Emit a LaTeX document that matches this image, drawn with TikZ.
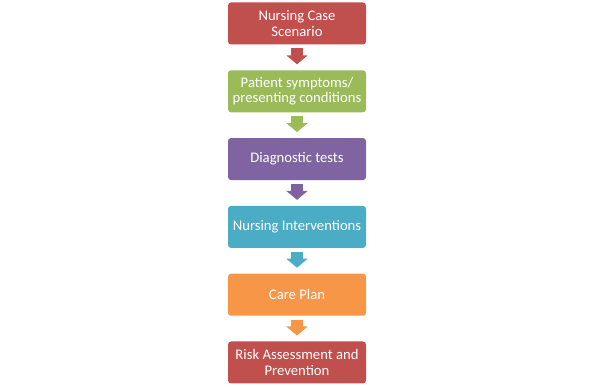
\documentclass[tikz,border=0pt]{standalone}
\usepackage{fontspec}
\setmainfont{Carlito}
\usepackage{tikz}
\usetikzlibrary{positioning,arrows.meta}
\definecolor{boxred}{HTML}{C0504D}
\definecolor{boxgreen}{HTML}{9BBB59}
\definecolor{boxpurple}{HTML}{8064A2}
\definecolor{boxaqua}{HTML}{4BACC6}
\definecolor{boxorange}{HTML}{F79646}

\begin{document}
\begin{tikzpicture}[x=0.75pt, y=0.75pt, font=\fontsize{11}{11.5}\selectfont, line join=round,
  node distance=19.35pt,
  stepbox/.style={fill=#1, text=white, rounded corners=2.25pt, minimum width=103.5pt,
    minimum height=31.5pt, inner sep=2pt, outer sep=0pt, align=center},
  fatarrow/.style={draw=#1, line width=9pt, shorten <=3pt, shorten >=4.5pt,
    -{Triangle[width=15.75pt, length=6.75pt, fill=#1]}}]
 % Frame
 \useasboundingbox (0,0) rectangle (594,388);
 % Steps
 \node[stepbox=boxred] (case) at (297,364.5) {Nursing Case\\Scenario};
 \node[stepbox=boxgreen, below=of case] (symptoms) {Patient symptoms/\\presenting conditions};
 \node[stepbox=boxpurple, below=of symptoms] (tests) {Diagnostic tests};
 \node[stepbox=boxaqua, below=of tests] (interv) {Nursing Interventions};
 \node[stepbox=boxorange, below=of interv] (plan) {Care Plan};
 \node[stepbox=boxred, below=of plan] (risk) {Risk Assessment and\\Prevention};
 % Arrows
 \draw[fatarrow=boxred] (case) -- (symptoms);
 \draw[fatarrow=boxgreen] (symptoms) -- (tests);
 \draw[fatarrow=boxpurple] (tests) -- (interv);
 \draw[fatarrow=boxaqua] (interv) -- (plan);
 \draw[fatarrow=boxorange] (plan) -- (risk);
\end{tikzpicture}
\end{document}
